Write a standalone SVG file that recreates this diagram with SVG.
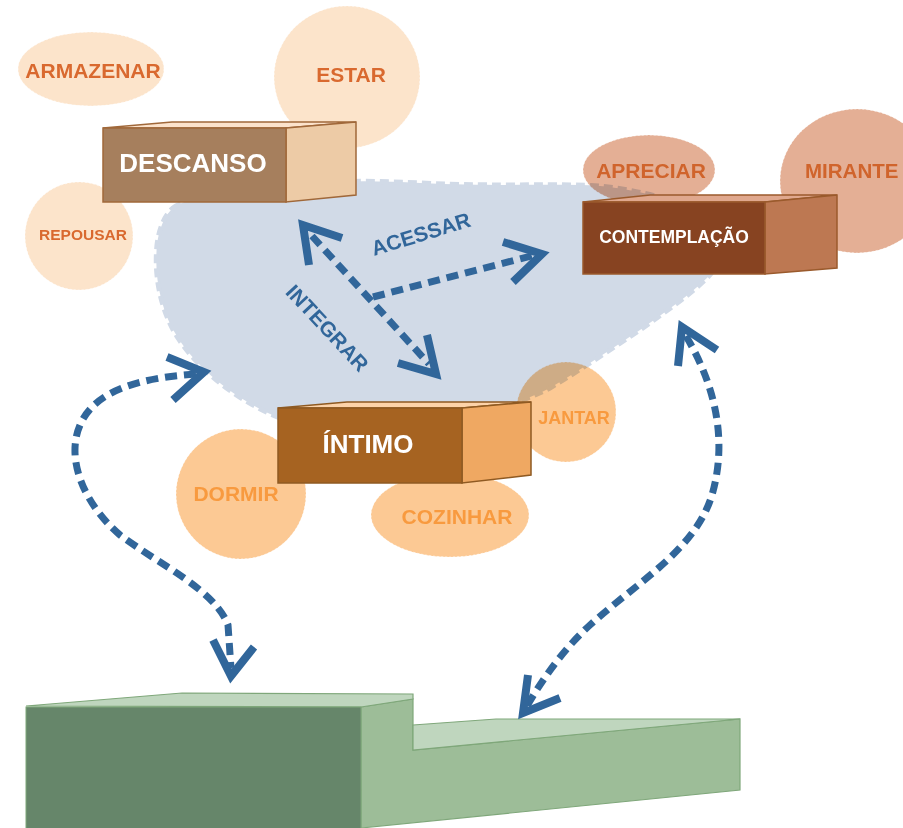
<svg xmlns="http://www.w3.org/2000/svg" width="903" height="828" viewBox="0 0 903 828">
<style>
text{font-family:"Liberation Sans",Arial,sans-serif;font-weight:bold;text-anchor:middle}
.p1{fill:#FCE4CB}
.p2{fill:#E4AF95}
.p3{fill:#FCC994}
.t1{fill:#D9692F}
.t2{fill:#D0642C}
.t3{fill:#F89A3F}
.bt{fill:#fff}
.ar{fill:none;stroke:#31669A;stroke-width:7;stroke-dasharray:12 7}
.ah{fill:none;stroke:#31669A;stroke-width:8;stroke-linecap:butt;stroke-linejoin:miter}
.lbl{fill:#31669A;font-size:21px}
.edge{stroke:#fff;stroke-width:1;stroke-dasharray:2 2;stroke-opacity:0.6}
</style>
<rect width="903" height="828" fill="#fff"/>

<g id="armazenar"><ellipse class="p1 edge" cx="91" cy="69" rx="73" ry="37"/><text class="t1" x="93" y="78" font-size="21">ARMAZENAR</text></g>
<g id="estar"><ellipse class="p1 edge" cx="347" cy="77" rx="73" ry="71"/><text class="t1" x="351" y="82" font-size="21">ESTAR</text></g>
<g id="repousar"><circle class="p1 edge" cx="79" cy="236" r="54"/><text class="t1" x="83" y="240" font-size="15.5">REPOUSAR</text></g>
<g id="apreciar"><ellipse class="p2 edge" cx="649" cy="170" rx="66" ry="35"/><text class="t2" x="651" y="178" font-size="21">APRECIAR</text></g>
<g id="mirante"><ellipse class="p2 edge" cx="857" cy="181" rx="77" ry="72"/><text class="t2" x="805" y="178" font-size="20.5" style="text-anchor:start">MIRANTE</text></g>
<g id="dormir"><circle class="p3 edge" cx="241" cy="494" r="65"/><text class="t3" x="236" y="501" font-size="21">DORMIR</text></g>
<g id="cozinhar"><ellipse class="p3 edge" cx="450" cy="515" rx="79" ry="42"/><text class="t3" x="457" y="524" font-size="21">COZINHAR</text></g>
<g id="jantar"><circle class="p3 edge" cx="566" cy="412" r="50"/><text class="t3" x="574" y="424" font-size="18">JANTAR</text></g>

<g id="zona" style="mix-blend-mode:multiply">
<path d="M 173,208 C 190,195 240,190 300,185 C 340,180 380,181 420,183 C 500,187 560,183 600,186 C 660,192 730,215 722,250 C 718,262 715,270 708,277 C 690,295 665,312 640,330 C 610,350 580,370 550,388 C 530,398 515,403 505,406 L 280,418 C 240,402 200,372 178,338 C 160,310 154,275 157,245 C 159,228 165,215 173,208 Z" fill="#D1DAE7" stroke="#D1DAE7" stroke-width="5" stroke-dasharray="9 5"/>
</g>

<g id="descanso">
<polygon points="103,128 172,122 356,122 286,128" fill="#FCE3CC" stroke="#A0683A" stroke-width="1.5"/>
<polygon points="286,128 356,122 356,195 286,202" fill="#EDCBA6" stroke="#A0683A" stroke-width="1.5"/>
<rect x="103" y="128" width="183" height="74" fill="#A67F5D" stroke="#A0683A" stroke-width="1.5"/>
<text class="bt" x="193" y="172" font-size="26">DESCANSO</text>
</g>
<g id="contemplacao">
<polygon points="583,202 650,195 837,195 765,202" fill="#E0A88E" stroke="#9A5A2C" stroke-width="1.5"/>
<polygon points="765,202 837,195 837,268 765,274" fill="#BD7852" stroke="#9A5A2C" stroke-width="1.5"/>
<rect x="583" y="202" width="182" height="72" fill="#874321" stroke="#9A5A2C" stroke-width="1.5"/>
<text class="bt" x="674" y="243" font-size="17.5">CONTEMPLAÇÃO</text>
</g>
<g id="intimo">
<polygon points="278,408 347,402 531,402 462,408" fill="#FDD3A9" stroke="#8F5A22" stroke-width="1.5"/>
<polygon points="462,408 531,402 531,475 462,483" fill="#EFA862" stroke="#8F5A22" stroke-width="1.5"/>
<rect x="278" y="408" width="184" height="75" fill="#A66321" stroke="#8F5A22" stroke-width="1.5"/>
<text class="bt" x="368" y="453" font-size="26">ÍNTIMO</text>
</g>
<g id="base">
<polygon points="361,707 413,699 413,750 740,719 740,790 361,828" fill="#9DBD98" stroke="#7FA77A" stroke-width="1.2"/>
<polygon points="413,725 496,719 740,719 413,750" fill="#BFD6BE" stroke="#7FA77A" stroke-width="1.2"/>
<polygon points="26,706 182,693 413,694 413,699 361,707" fill="#BFD6BE" stroke="#7FA77A" stroke-width="1.2"/>
<rect x="26" y="707" width="335" height="125" fill="#66866A" stroke="#7FA77A" stroke-width="1"/>
</g>

<g id="connectors">
<path class="ar" d="M 312,236 L 429,364"/>
<polyline class="ah" points="342,238 303,225 309,265"/>
<polyline class="ah" points="427,335 436,374 398,363"/>
<path class="ar" d="M 373,297 L 535,255"/>
<polyline class="ah" points="503,242 542,254 513,282"/>
<path class="ar" d="M 196,374 C 140,378 95,390 80,425 C 65,460 85,505 120,535 C 160,565 215,590 228,625 L 231,668"/>
<polyline class="ah" points="167,357 204,372 173,400"/>
<polyline class="ah" points="213,640 231,676 254,647"/>
<path class="ar" d="M 686,336 C 715,385 728,440 712,495 C 695,550 640,580 590,625 C 565,648 545,675 527,706"/>
<polyline class="ah" points="678,366 682,327 717,350"/>
<polyline class="ah" points="528,675 523,713 560,698"/>
<text class="lbl" transform="translate(423,241) rotate(-17)">ACESSAR</text>
<text class="lbl" transform="translate(322,333) rotate(47)">INTEGRAR</text>
</g>
</svg>
